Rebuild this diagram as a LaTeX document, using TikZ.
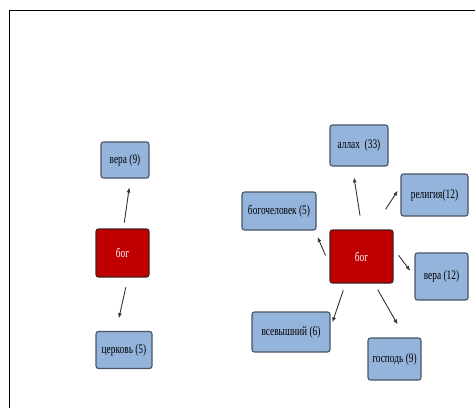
\documentclass[tikz,border=0pt]{standalone}
\usepackage{fontspec}
\newfontfamily\boxfont[FakeStretch=0.72]{Liberation Serif}
\usetikzlibrary{arrows.meta}

\begin{document}
\begin{tikzpicture}[x=1pt,y=-1pt,
    every node/.style={font=\boxfont\fontsize{13}{15}\selectfont},
    word/.style={rectangle,rounded corners=2.5pt,fill=wordfill,draw=wordborder,
      line width=1.1pt,inner sep=2pt},
    centre/.style={word,fill=godfill,draw=godborder,text=white},
    arr/.style={-{Latex[length=5pt,width=4pt]},line width=0.9pt,color=arrowcolor}]
  % Colors
  \definecolor{wordfill}{RGB}{149,180,220}
  \definecolor{wordborder}{RGB}{72,84,100}
  \definecolor{godfill}{RGB}{192,0,0}
  \definecolor{godborder}{RGB}{70,30,30}
  \colorlet{arrowcolor}{black!80}

  \useasboundingbox (0,0) rectangle (475,408);
  \draw[line width=1pt] (9,408) -- (9,10) -- (475,10);

  % left map
  \node[centre,minimum width=53pt,minimum height=48pt] (bog1) at (122.5,253) {бог};
  \node[word,minimum width=48pt,minimum height=36pt] (vera1) at (125,160) {вера (9)};
  \node[word,minimum width=56pt,minimum height=37pt] (church) at (124,350) {церковь (5)};

  \draw[arr,shorten <=6pt,shorten >=9pt] ([xshift=1pt]bog1.north) -- ([xshift=5.5pt]vera1.south);
  \draw[arr,shorten <=10pt,shorten >=13pt] ([xshift=5.5pt]bog1.south) -- ([xshift=-8pt]church.north);

  % right map
  \node[centre,minimum width=63pt,minimum height=53pt] (bog2) at (361.5,256.5) {бог};
  \node[word,minimum width=58pt,minimum height=41pt] (allah) at (359,145.5) {аллах\ \ (33)};
  \node[word,minimum width=67pt,minimum height=42pt] (religion) at (434.5,195) {религия(12)};
  \node[word,minimum width=74pt,minimum height=38pt] (godman) at (279,211) {богочеловек (5)};
  \node[word,minimum width=53pt,minimum height=47pt] (vera2) at (441.5,276.5) {вера (12)};
  \node[word,minimum width=78pt,minimum height=40pt] (most) at (291,332) {всевышний (6)};
  \node[word,minimum width=53pt,minimum height=42pt] (lord) at (394.5,359) {господь (9)};

  \draw[arr,shorten <=14pt,shorten >=11pt] ([xshift=0.7pt]bog2.north) -- ([xshift=-6.7pt]allah.south);
  \draw[arr,shorten <=24pt,shorten >=5pt] ([xshift=11pt]bog2.north) -- ([yshift=8.5pt]religion.west);
  \draw[arr,shorten <=10pt,shorten >=7pt] ([yshift=-8pt]bog2.west) -- ([xshift=-1.8pt]godman.south east);
  \draw[arr,shorten <=8.5pt,shorten >=7pt] ([yshift=8pt]bog2.east) -- (vera2.west);
  \draw[arr,shorten <=7pt,shorten >=6pt] ([xshift=-16pt]bog2.south) -- ([yshift=4pt]most.east);
  \draw[arr,shorten <=7pt,shorten >=15pt] ([xshift=12.7pt]bog2.south) -- ([xshift=10.5pt]lord.north);
\end{tikzpicture}
\end{document}
